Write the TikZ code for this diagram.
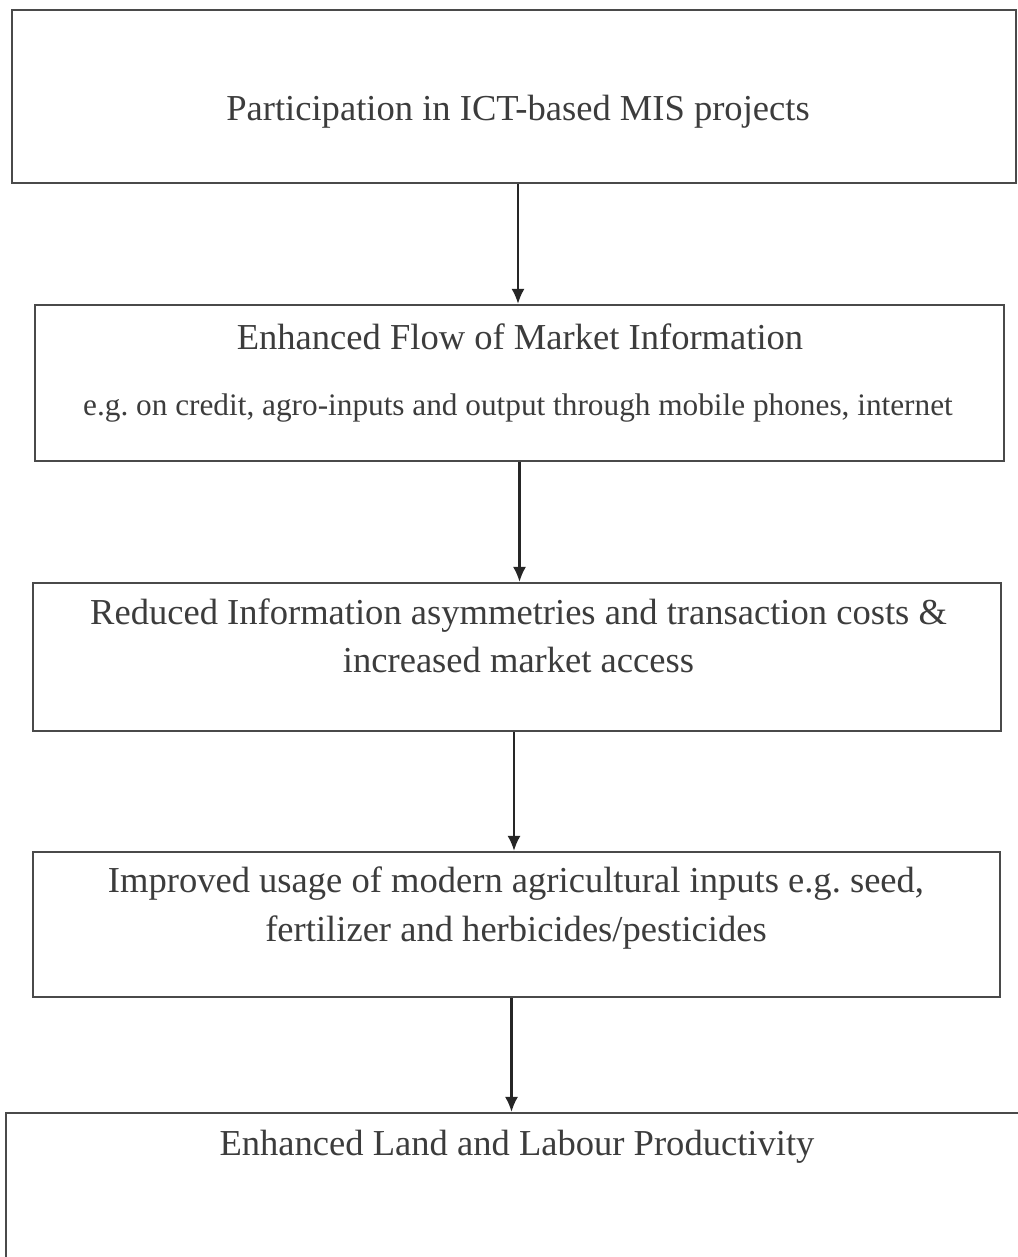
\documentclass[tikz,border=0pt]{standalone}
\usepackage{fontspec}
\setmainfont{Liberation Serif}
\usetikzlibrary{positioning,arrows.meta}
\frenchspacing

\definecolor{inkgray}{HTML}{3C3C3C}
\definecolor{linegray}{HTML}{4A4A4A}

\tikzset{
  stagebox/.style={rectangle,draw=linegray,line width=1.2pt,inner sep=0pt},
  stagetext/.style={font=\fontsize{20.8}{27.5}\selectfont,text=inkgray,align=center,anchor=center},
  notetext/.style={font=\fontsize{17.8}{20}\selectfont,text=inkgray,anchor=center},
  flow/.style={draw=black!85,line width=1.2pt,-{Latex[length=3mm,width=2.6mm]}}
}

\begin{document}
\begin{tikzpicture}
\path[use as bounding box,clip] (0,0) rectangle (20.36,25.14);

% boxes
\node[stagebox,minimum width=20.08cm,minimum height=3.46cm] (b1) at (10.28,23.21) {};
\node[stagebox,minimum width=19.38cm,minimum height=3.12cm] (b2) at (10.39,17.48) {};
\node[stagebox,minimum width=19.36cm,minimum height=2.96cm] (b3) at (10.34,12.0) {};
\node[stagebox,minimum width=19.34cm,minimum height=2.9cm] (b4) at (10.33,6.65) {};
\node[stagebox,minimum width=20.48cm,minimum height=3.54cm] (b5) at (10.36,1.11) {};

% texts
\node[stagetext] (t1) at (10.36,22.9) {Participation in ICT-based MIS projects};
\node[stagetext] (t2) at (10.4,18.4) {Enhanced Flow of Market Information};
\node[notetext] (t2e) at (10.36,16.98) {e.g. on credit, agro-inputs and output through mobile phones, internet};
\node[stagetext] (t3) at (10.37,12.42) {Reduced Information asymmetries and transaction costs \&\\increased market access};
\node[stagetext] (t4) at (10.32,6.98) {Improved usage of modern agricultural inputs e.g. seed,\\fertilizer and herbicides/pesticides};
\node[stagetext] (t5) at (10.34,2.2) {Enhanced Land and Labour Productivity};

% arrows
\draw[flow] ([xshift=0.08cm]b1.south) -- ([xshift=0.08cm]b1.south |- b2.north);
\draw[flow] (b2.south) -- (b2.south |- b3.north);
\draw[flow] ([xshift=-0.06cm]b3.south) -- ([xshift=-0.06cm]b3.south |- b4.north);
\draw[flow] ([xshift=-0.1cm]b4.south) -- ([xshift=-0.1cm]b4.south |- b5.north);

\end{tikzpicture}
\end{document}
